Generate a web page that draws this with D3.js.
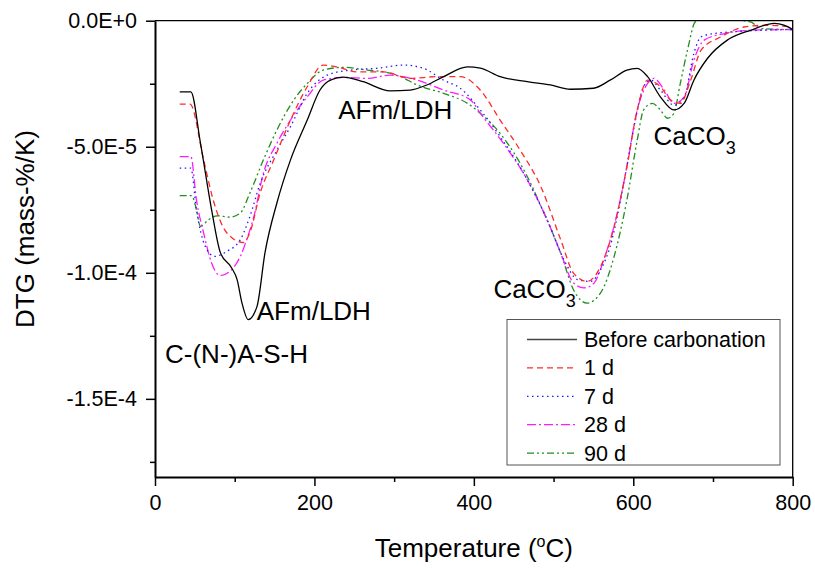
<!DOCTYPE html>
<html>
<head>
<meta charset="utf-8">
<script src="https://cdn.jsdelivr.net/npm/d3@7"></script>
<style>
	body { margin: 0; background: #fff; }
	svg { font-family: "Liberation Sans", Arial, sans-serif; }
</style>
</head>
<body>
<svg class="dtg"></svg>
<script>
// DTG values are in units of 1E-5 mass-%/K
const tempBefore = [31, 45, 57, 71, 82, 96, 103, 109, 117, 128, 138, 153, 170, 191, 207, 220, 236, 261, 295, 320, 341, 362, 392, 408, 433, 467, 496, 521, 550, 571, 592, 605, 618, 634, 651, 664, 676, 693, 718, 747, 777, 789, 800];
const dtgBefore = [-2.82, -2.82, -4.85, -7.5, -9.2, -9.8, -10.27, -11.18, -11.86, -11.33, -9.2, -7.22, -5.52, -3.94, -2.75, -2.36, -2.24, -2.42, -2.78, -2.75, -2.55, -2.22, -1.83, -1.88, -2.22, -2.42, -2.55, -2.72, -2.68, -2.36, -1.96, -1.89, -2.22, -3.02, -3.54, -3.27, -2.36, -1.5, -0.77, -0.38, -0.11, -0.18, -0.35];

const temp1d = [31, 44, 61, 73, 90, 111, 119, 132, 149, 170, 191, 211, 228, 253, 287, 320, 354, 383, 408, 433, 458, 484, 509, 525, 542, 559, 576, 592, 605, 618, 634, 647, 659, 672, 685, 710, 739, 768, 800];
const dtg1d = [-3.31, -3.31, -5.52, -7.11, -8.41, -8.8, -8.41, -6.83, -5.52, -3.94, -2.62, -1.76, -1.83, -2.03, -2.03, -2.29, -2.22, -2.22, -2.75, -3.94, -5.13, -6.58, -8.69, -10.01, -10.34, -9.75, -8.16, -5.79, -3.54, -2.36, -2.62, -3.15, -3.28, -2.36, -1.17, -0.64, -0.25, -0.18, -0.25];

const temp7d = [31, 45, 52, 63, 75, 90, 107, 119, 132, 153, 170, 191, 216, 245, 278, 312, 337, 362, 383, 408, 433, 467, 492, 513, 530, 546, 559, 571, 588, 601, 613, 622, 634, 651, 664, 676, 685, 701, 726, 760, 800];
const dtg7d = [-5.85, -5.85, -7.5, -8.95, -9.35, -9.15, -8.69, -7.77, -6.45, -5.13, -4.2, -2.88, -2.16, -1.96, -1.89, -1.76, -1.89, -2.36, -2.68, -3.54, -4.6, -6.31, -7.9, -9.48, -10.27, -10.34, -9.88, -8.95, -6.45, -4.2, -2.62, -2.36, -2.75, -3.35, -3.02, -1.3, -0.64, -0.51, -0.44, -0.38, -0.35];

const temp28d = [31, 45, 52, 61, 71, 82, 94, 107, 115, 124, 136, 153, 170, 191, 211, 237, 266, 295, 329, 362, 396, 408, 437, 467, 492, 509, 525, 538, 551, 563, 580, 592, 605, 618, 626, 639, 651, 664, 676, 689, 714, 747, 800];
const dtg28d = [-5.39, -5.39, -7.11, -8.42, -9.61, -10.11, -9.94, -9.35, -8.69, -7.77, -6.05, -4.86, -3.94, -3.02, -2.36, -2.25, -2.29, -2.16, -2.36, -2.75, -3.15, -3.67, -4.86, -6.31, -7.9, -9.22, -10.4, -10.6, -10.4, -9.48, -7.63, -5.79, -3.54, -2.49, -2.29, -2.75, -3.28, -3.02, -1.56, -0.77, -0.51, -0.38, -0.35];

const temp90d = [31, 46, 52, 57, 67, 78, 94, 107, 119, 136, 153, 174, 191, 211, 237, 266, 287, 308, 329, 362, 392, 408, 433, 467, 488, 509, 525, 542, 559, 576, 592, 605, 613, 624, 634, 643, 651, 659, 668, 678, 700, 747, 760, 800];
const dtg90d = [-6.94, -6.94, -7.5, -8.16, -7.9, -7.74, -7.79, -7.63, -6.84, -5.52, -4.33, -3.15, -2.49, -1.96, -1.85, -1.96, -2.03, -2.22, -2.55, -2.88, -3.28, -3.67, -4.47, -6.18, -7.63, -9.22, -10.67, -11.2, -10.8, -9.35, -7.11, -4.73, -3.54, -3.28, -3.54, -3.87, -3.67, -2.49, -1.17, -0.05, 0.1, -0.05, -0.31, -0.35];

const seriesNames = ["Before carbonation", "1 d", "7 d", "28 d", "90 d"];
const seriesColors = ["#000000", "#ff2a2a", "#1a1aff", "#ff1aff", "#1f8f1f"];
const seriesDashes = ["none", "6,4", "1.5,3.5", "9,3,2,3", "7,3,2,3,2,3"];

const xTicks = [0, 200, 400, 600, 800];
const xMinorTicks = [100, 300, 500, 700];
const yTicks = [0, -5, -10, -15];
const yTickLabels = ["0.0E+0", "-5.0E-5", "-1.0E-4", "-1.5E-4"];
const yMinorTicks = [-2.5, -7.5, -12.5, -17.5];

// annotations in data coordinates (text start, baseline)
const labelTexts = ["C-(N-)A-S-H", "AFm/LDH", "AFm/LDH", "CaCO", "CaCO"];
const labelSubs = ["", "", "", "3", "3"];
const labelTemps = [12.6, 127.7, 229.8, 424.5, 625.4];
const labelDtg = [-13.58, -11.88, -3.9, -11.0, -4.93];

var drawChart = () => {
	var width = 815,
		height = 569;
	var margin = { top: 20.7, right: 22.3, bottom: 92, left: 155 };

	var svg = d3.select(".dtg").attr("width", width).attr("height", height);

	let x = d3
		.scaleLinear()
		.domain([0, 800])
		.range([margin.left, width - margin.right]);

	let y = d3
		.scaleLinear()
		.domain([-18.1, 0])
		.range([height - margin.bottom, margin.top]);

	svg
		.append("clipPath")
		.attr("id", "plotclip")
		.append("rect")
		.attr("x", margin.left)
		.attr("y", margin.top)
		.attr("width", x(800) - x(0))
		.attr("height", y(-18.1) - y(0));

	let series = [
		[tempBefore, dtgBefore],
		[temp1d, dtg1d],
		[temp7d, dtg7d],
		[temp28d, dtg28d],
		[temp90d, dtg90d],
	];

	let line = d3
		.line()
		.x((d) => x(d[0]))
		.y((d) => y(d[1]))
		.curve(d3.curveMonotoneX);

	// draw later series first so the black curve stays on top
	series
		.map((s, i) => i)
		.reverse()
		.forEach((i) => {
			let pts = series[i][0].map((t, j) => [t, series[i][1][j]]);
			svg
				.append("path")
				.attr("clip-path", "url(#plotclip)")
				.attr("d", line(pts))
				.attr("fill", "none")
				.attr("stroke", seriesColors[i])
				.attr("stroke-width", 1.3)
				.attr("stroke-dasharray", seriesDashes[i]);
		});

	// frame top/right
	svg
		.append("path")
		.attr("d", `M${x(0)},${y(0)}H${x(800)}V${y(-18.1)}`)
		.attr("fill", "none")
		.attr("stroke", "#000")
		.attr("stroke-width", 1.3);

	let xAxis = (g) =>
		g
			.attr("transform", `translate(0,${y(-18.1)})`)
			.call(d3.axisBottom(x).tickValues(xTicks).tickSize(9).tickPadding(9).tickSizeOuter(0))
			.call((g) => g.select(".domain").attr("stroke-width", 2));

	let xMinor = (g) =>
		g
			.attr("transform", `translate(0,${y(-18.1)})`)
			.call(d3.axisBottom(x).tickValues(xMinorTicks).tickSize(5).tickFormat("").tickSizeOuter(0))
			.call((g) => g.select(".domain").remove());

	let yAxis = (g) =>
		g
			.attr("transform", `translate(${margin.left},0)`)
			.call(
				d3
					.axisLeft(y)
					.tickValues(yTicks)
					.tickSize(9)
					.tickPadding(9)
					.tickSizeOuter(0)
					.tickFormat((d, i) => yTickLabels[i])
			)
			.call((g) => g.select(".domain").attr("stroke-width", 2));

	let yMinor = (g) =>
		g
			.attr("transform", `translate(${margin.left},0)`)
			.call(d3.axisLeft(y).tickValues(yMinorTicks).tickSize(5).tickFormat("").tickSizeOuter(0))
			.call((g) => g.select(".domain").remove());

	svg.append("g").call(xMinor);
	svg.append("g").call(yMinor);
	svg.append("g").call(xAxis);
	svg.append("g").call(yAxis);

	svg
		.selectAll(".tick line")
		.attr("stroke-width", 1.5);
	svg
		.selectAll(".tick text")
		.attr("font-family", "Liberation Sans, Arial, sans-serif")
		.attr("font-size", 21.5)
		.attr("fill", "#000");

	// axis titles
	let xTitle = svg
		.append("text")
		.attr("text-anchor", "middle")
		.attr("x", (x(0) + x(800)) / 2)
		.attr("y", 557)
		.attr("font-size", 26);
	xTitle.append("tspan").text("Temperature (");
	xTitle.append("tspan").attr("font-size", 16).attr("dy", -10).text("o");
	xTitle.append("tspan").attr("dy", 10).text("C)");

	svg
		.append("text")
		.attr("text-anchor", "middle")
		.attr("transform", "translate(34,229) rotate(-90)")
		.attr("font-size", 26)
		.text("DTG (mass-%/K)");

	// annotations
	labelTexts.forEach((t, i) => {
		let txt = svg
			.append("text")
			.attr("x", x(labelTemps[i]))
			.attr("y", y(labelDtg[i]))
			.attr("font-size", 26)
			.text(t);
		if (labelSubs[i])
			txt.append("tspan").attr("font-size", 18).attr("dy", 9).text(labelSubs[i]);
	});

	// legend
	var legend = svg.append("g");
	legend
		.append("rect")
		.attr("x", 507)
		.attr("y", 319.5)
		.attr("width", 273)
		.attr("height", 145.5)
		.attr("fill", "#fff")
		.attr("stroke", "#555")
		.attr("stroke-width", 1);

	seriesNames.forEach((name, i) => {
		let ly = 339.5 + i * 28.4;
		legend
			.append("line")
			.attr("x1", 527)
			.attr("x2", 577)
			.attr("y1", ly)
			.attr("y2", ly)
			.attr("stroke", i === 0 ? "#444" : seriesColors[i])
			.attr("stroke-width", 1.3)
			.attr("stroke-dasharray", seriesDashes[i]);
		legend
			.append("text")
			.attr("x", 584)
			.attr("y", ly + 7.5)
			.attr("font-size", 21.5)
			.text(name);
	});
};

drawChart();
</script>
</body>
</html>
